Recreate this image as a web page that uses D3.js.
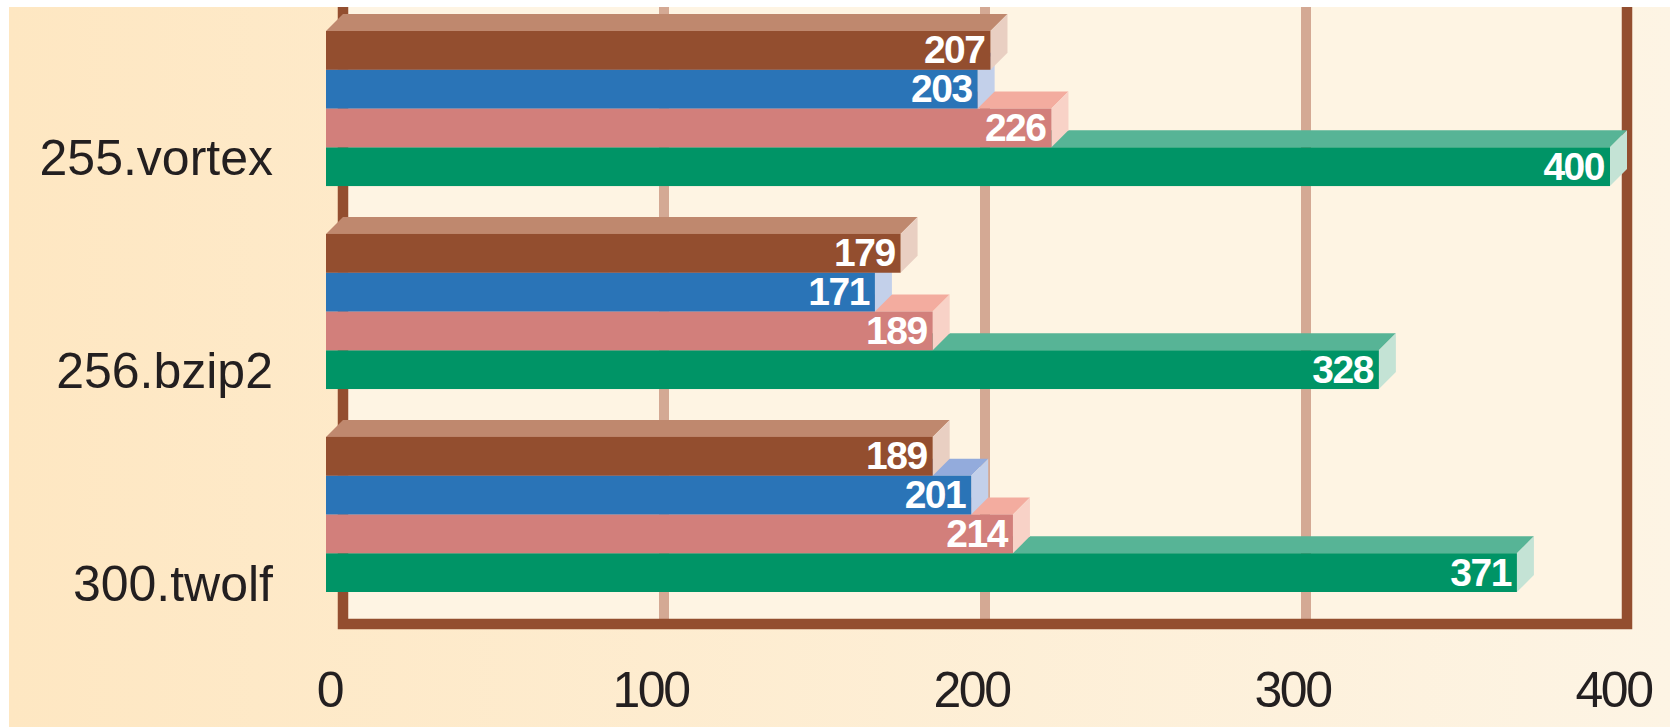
<!DOCTYPE html>
<html>
<head>
<meta charset="utf-8">
<script src="https://cdn.jsdelivr.net/npm/d3@7"></script>
<style>
  body { margin: 0; background: #ffffff; }
  text { font-family: "Liberation Sans", Arial, sans-serif; }
</style>
</head>
<body>
<script>
// benchmark data
var categories = ["255.vortex", "256.bzip2", "300.twolf"];
var seriesNames = ["brown", "blue", "pink", "green"];
var brownValues = [207, 179, 189];
var blueValues = [203, 171, 201];
var pinkValues = [226, 189, 214];
var greenValues = [400, 328, 371];
var tickValues = [0, 100, 200, 300, 400];

var values = {brown: brownValues, blue: blueValues, pink: pinkValues, green: greenValues};

// front / top / side face colours
var colors = {
    brown: {front: "#934E2F", top: "#BF886E", side: "#E9CFC2"},
    blue:  {front: "#2A74B7", top: "#93ABDC", side: "#C3D0EA"},
    pink:  {front: "#D27F7B", top: "#F3AC9F", side: "#F8D2C7"},
    green: {front: "#009466", top: "#57B496", side: "#C4E3D5"}
};

var w = 1670, h = 727;
var depth = 17; // 3d offset of the bars

var svg = d3.select("body").append("svg")
    .attr("width", w)
    .attr("height", h);

// background gradient
var grad = svg.append("defs").append("linearGradient")
    .attr("id", "bg")
    .attr("x1", "0%").attr("x2", "100%")
    .attr("y1", "0%").attr("y2", "0%");
grad.append("stop").attr("offset", "0%").attr("stop-color", "#FEE7C2");
grad.append("stop").attr("offset", "100%").attr("stop-color", "#FDF4E4");

svg.append("rect")
    .attr("x", 9).attr("y", 7)
    .attr("width", w - 9).attr("height", h - 7)
    .style("fill", "url(#bg)");

// scales
var x = d3.scaleLinear()
    .domain([0, 400])
    .range([343, 1627]);

var yGroup = d3.scaleBand()
    .domain(categories)
    .range([31, 592])
    .paddingInner(0.236)
    .paddingOuter(0);

var ySeries = d3.scaleBand()
    .domain(seriesNames)
    .range([0, yGroup.bandwidth()]);

// label baselines do not sit on the group centres in the original
var yLabel = d3.scalePoint()
    .domain(categories)
    .range([175, 601]);

var frameBottom = 624;

// plot interior
svg.append("rect")
    .attr("x", x(0)).attr("y", 7)
    .attr("width", x(400) - x(0))
    .attr("height", frameBottom - 7)
    .style("fill", "#FEF4E3");

// gridlines
svg.selectAll(".grid")
    .data(tickValues.slice(1, -1))
    .enter()
    .append("line")
    .attr("class", "grid")
    .attr("x1", function(d){ return x(d); })
    .attr("x2", function(d){ return x(d); })
    .attr("y1", 7)
    .attr("y2", frameBottom)
    .style("stroke", "#D4A994")
    .style("stroke-width", 10);

// frame
svg.append("path")
    .attr("d", "M" + x(0) + ",7V" + frameBottom + "H" + x(400) + "V7")
    .style("fill", "none")
    .style("stroke", "#934E2F")
    .style("stroke-width", 10.5);

// flatten to one record per bar, drawn bottom bar first so upper bars overlap
var bars = [];
categories.forEach(function(c, i){
    seriesNames.slice().reverse().forEach(function(s){
        bars.push({cat: c, series: s, value: values[s][i]});
    });
});

var barG = svg.selectAll(".bar")
    .data(bars)
    .enter()
    .append("g")
    .attr("class", "bar");

function y0(d){ return yGroup(d.cat) + ySeries(d.series); }
function y1(d){ return y0(d) + ySeries.bandwidth(); }

// top face
barG.append("polygon")
    .attr("points", function(d){
        var a = y0(d);
        return [[x(0) - depth, a], [x(0), a - depth], [x(d.value), a - depth], [x(d.value) - depth, a]].join(" ");
    })
    .style("fill", function(d){ return colors[d.series].top; });

// side face
barG.append("polygon")
    .attr("points", function(d){
        var a = y0(d), b = y1(d), e = x(d.value);
        return [[e - depth, a], [e, a - depth], [e, b - depth], [e - depth, b]].join(" ");
    })
    .style("fill", function(d){ return colors[d.series].side; });

// front face
barG.append("rect")
    .attr("x", x(0) - depth)
    .attr("y", y0)
    .attr("width", function(d){ return x(d.value) - x(0); })
    .attr("height", ySeries.bandwidth())
    .style("fill", function(d){ return colors[d.series].front; });

// value labels
svg.selectAll(".value")
    .data(bars)
    .enter()
    .append("text")
    .attr("class", "value")
    .attr("x", function(d){ return x(d.value) - depth - 6; })
    .attr("y", function(d){ return y0(d) + ySeries.bandwidth() / 2 + 13; })
    .attr("text-anchor", "end")
    .style("font-size", "39px")
    .style("font-weight", "bold")
    .style("letter-spacing", "-1.5px")
    .style("fill", "#ffffff")
    .text(function(d){ return d.value; });

// category labels
svg.selectAll(".cat")
    .data(categories)
    .enter()
    .append("text")
    .attr("class", "cat")
    .attr("x", 273)
    .attr("y", function(d){ return yLabel(d); })
    .attr("text-anchor", "end")
    .style("font-size", "50px")
    .style("fill", "#231F20")
    .text(function(d){ return d; });

// x axis labels
var xAxis = d3.axisBottom(x)
    .tickValues(tickValues)
    .tickSize(0)
    .tickPadding(0);

var axis = svg.append("g")
    .attr("class", "axis")
    .attr("transform", "translate(-14,671)")
    .call(xAxis);

axis.select(".domain").remove();
axis.selectAll("text")
    .style("font-family", "'Liberation Sans', Arial, sans-serif")
    .style("font-size", "50px")
    .style("letter-spacing", "-2.5px")
    .style("fill", "#231F20");
</script>
</body>
</html>
